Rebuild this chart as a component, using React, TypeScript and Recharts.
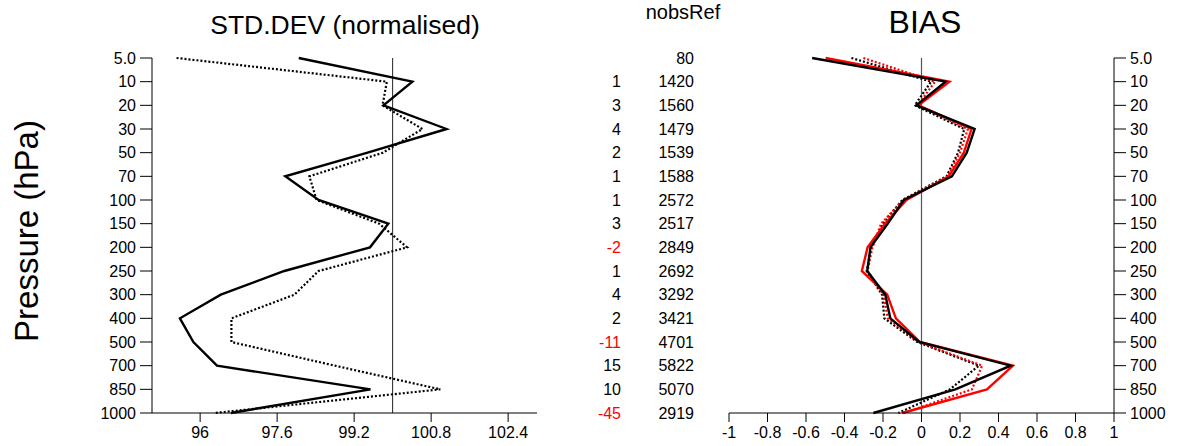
import React from "react";
import { LineChart, Line, XAxis, YAxis, ReferenceLine } from "recharts";

const FONT = "'Liberation Sans', Arial, Helvetica, sans-serif";

// pressure levels, top to bottom
const LEVELS = ["5.0", "10", "20", "30", "50", "70", "100", "150", "200", "250", "300", "400", "500", "700", "850", "1000"];

// STD.DEV (normalised)
const STD_SOLID = [98.05, 100.41, 99.81, 101.12, 99.48, 97.77, 98.46, 99.91, 99.53, 97.75, 96.43, 95.58, 95.86, 96.35, 99.54, 96.64];
const STD_DOTTED = [95.51, 99.88, 99.79, 100.62, 99.8, 98.27, 98.42, 99.72, 100.3, 98.46, 97.96, 96.65, 96.65, 98.8, 100.99, 96.3];
const STD_TICKS = [96, 97.6, 99.2, 100.8, 102.4];

// BIAS
const BIAS_BLACK = [-0.568, 0.125, -0.027, 0.276, 0.235, 0.158, -0.092, -0.175, -0.265, -0.282, -0.188, -0.162, -0.012, 0.463, 0.176, -0.25];
const BIAS_RED = [-0.498, 0.145, -0.016, 0.26, 0.22, 0.142, -0.078, -0.19, -0.28, -0.31, -0.178, -0.133, -0.008, 0.475, 0.34, -0.1];
const BIAS_BLACK_DOT = [-0.364, 0.05, -0.035, 0.222, 0.19, 0.13, -0.1, -0.2, -0.26, -0.285, -0.205, -0.193, -0.022, 0.298, 0.148, -0.12];
const BIAS_RED_DOT = [-0.302, 0.07, -0.02, 0.241, 0.2, 0.137, -0.095, -0.21, -0.255, -0.28, -0.198, -0.175, -0.016, 0.315, 0.262, -0.09];
const BIAS_TICKS = [-1, -0.8, -0.6, -0.4, -0.2, 0, 0.2, 0.4, 0.6, 0.8, 1];

// observation counts
const NOBS_DIFF: (number | null)[] = [null, 1, 3, 4, 2, 1, 1, 3, -2, 1, 4, 2, -11, 15, 10, -45];
const NOBS_REF = [80, 1420, 1560, 1479, 1539, 1588, 2572, 2517, 2849, 2692, 3292, 3421, 4701, 5822, 5070, 2919];

const LEVEL_IDX = LEVELS.map((_, i) => i);

const stdData = LEVELS.map((_, i) => ({ lev: i, solid: STD_SOLID[i], dotted: STD_DOTTED[i] }));
const biasData = LEVELS.map((_, i) => ({
  lev: i,
  black: BIAS_BLACK[i],
  red: BIAS_RED[i],
  blackDot: BIAS_BLACK_DOT[i],
  redDot: BIAS_RED_DOT[i],
}));

const tickStyle = { fill: "#000", fontSize: 16, fontFamily: FONT };

const MidTick = (props: any) => {
  const { x, y, payload } = props;
  const i = payload.value;
  const d = NOBS_DIFF[i];
  return (
    <g>
      {d !== null && (
        <text x={x - 108} y={y} dy="0.355em" textAnchor="end" fill={d < 0 ? "#ff0000" : "#000"} fontSize={16} fontFamily={FONT}>
          {d}
        </text>
      )}
      <text x={x - 35} y={y} dy="0.355em" textAnchor="end" fill="#000" fontSize={16} fontFamily={FONT}>
        {NOBS_REF[i]}
      </text>
    </g>
  );
};

export default function App() {
  return (
    <div style={{ position: "absolute", left: 0, top: 0, width: 1177, height: 446, background: "#fff", fontFamily: FONT }}>
      <div style={{ position: "absolute", left: 0, top: 0 }}>
        <LineChart width={560} height={446} layout="vertical" data={stdData} margin={{ top: 58, right: 23, bottom: 0, left: 0 }}>
          <XAxis
            type="number"
            domain={[95, 103]}
            ticks={STD_TICKS}
            interval={0}
            allowDataOverflow
            height={33}
            tickSize={9}
            tickMargin={5}
            tick={tickStyle}
            axisLine={{ stroke: "#000" }}
            tickLine={{ stroke: "#000" }}
          />
          <YAxis
            type="number"
            dataKey="lev"
            domain={[0, 15]}
            ticks={LEVEL_IDX}
            interval={0}
            tickFormatter={(v: number) => LEVELS[v]}
            width={152}
            tickSize={12}
            tickMargin={4}
            tick={tickStyle}
            axisLine={{ stroke: "#000" }}
            tickLine={{ stroke: "#000" }}
          />
          <ReferenceLine x={100} stroke="#222" strokeWidth={1} />
          <Line type="linear" dataKey="dotted" stroke="#000" strokeWidth={2.2} strokeDasharray="2 2" dot={false} isAnimationActive={false} />
          <Line type="linear" dataKey="solid" stroke="#000" strokeWidth={2.4} dot={false} isAnimationActive={false} />
        </LineChart>
      </div>

      <div style={{ position: "absolute", left: 560, top: 0 }}>
        <LineChart width={617} height={446} layout="vertical" data={biasData} margin={{ top: 58, right: 0, bottom: 0, left: 0 }}>
          <XAxis
            type="number"
            domain={[-1, 1]}
            ticks={BIAS_TICKS}
            interval={0}
            allowDataOverflow
            height={33}
            tickSize={9}
            tickMargin={5}
            tick={tickStyle}
            tickFormatter={(v: number) => String(v)}
            axisLine={{ stroke: "#000" }}
            tickLine={{ stroke: "#000" }}
          />
          <YAxis
            yAxisId="mid"
            orientation="left"
            type="number"
            dataKey="lev"
            domain={[0, 15]}
            ticks={LEVEL_IDX}
            interval={0}
            width={169}
            tickSize={0}
            tickMargin={0}
            axisLine={false}
            tickLine={false}
            tick={<MidTick />}
          />
          <YAxis
            yAxisId="r"
            orientation="right"
            type="number"
            dataKey="lev"
            domain={[0, 15]}
            ticks={LEVEL_IDX}
            interval={0}
            tickFormatter={(v: number) => LEVELS[v]}
            width={63}
            tickSize={12}
            tickMargin={4}
            tick={tickStyle}
            axisLine={{ stroke: "#000" }}
            tickLine={{ stroke: "#000" }}
          />
          <ReferenceLine x={0} yAxisId="r" stroke="#555" strokeWidth={1.2} />
          <Line yAxisId="r" type="linear" dataKey="blackDot" stroke="#000" strokeWidth={2.2} strokeDasharray="2 2" dot={false} isAnimationActive={false} />
          <Line yAxisId="r" type="linear" dataKey="redDot" stroke="#ff0000" strokeWidth={2.2} strokeDasharray="2 2" dot={false} isAnimationActive={false} />
          <Line yAxisId="r" type="linear" dataKey="red" stroke="#ff0000" strokeWidth={2.4} dot={false} isAnimationActive={false} />
          <Line yAxisId="r" type="linear" dataKey="black" stroke="#000" strokeWidth={2.4} dot={false} isAnimationActive={false} />
        </LineChart>
      </div>

      <svg width={1177} height={446} style={{ position: "absolute", left: 0, top: 0, pointerEvents: "none" }}>
        <text x={345} y={33.5} textAnchor="middle" fontSize={26.5} fontFamily={FONT} fill="#000">
          STD.DEV (normalised)
        </text>
        <text x={683} y={18.5} textAnchor="middle" fontSize={20} fontFamily={FONT} fill="#000">
          nobsRef
        </text>
        <text x={925} y={32.5} textAnchor="middle" fontSize={32} fontFamily={FONT} fill="#000">
          BIAS
        </text>
        <text x={38} y={231} transform="rotate(-90 38 231)" textAnchor="middle" fontSize={33} fontFamily={FONT} fill="#000">
          Pressure (hPa)
        </text>
      </svg>
    </div>
  );
}
